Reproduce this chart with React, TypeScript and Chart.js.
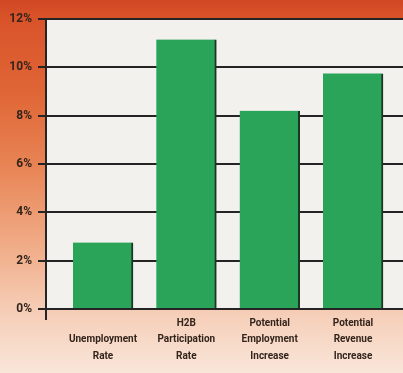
import React, { useEffect, useRef } from "react";
import { Chart, registerables } from "chart.js";

Chart.register(...registerables);

const categories: string[][] = [
  ["", "Unemployment", "Rate"],
  ["H2B", "Participation", "Rate"],
  ["Potential", "Employment", "Increase"],
  ["Potential", "Revenue", "Increase"],
];
const values: number[] = [2.75, 11.15, 8.2, 9.75];
const positions: number[] = [1, 2, 3, 4];
const yTicks: number[] = [0, 2, 4, 6, 8, 10, 12];

const X_MIN = 0.316;
const X_MAX = 4.6;
const FONT_FAMILY = 'Roboto, "Liberation Sans", sans-serif';
const TEXT = "#33241c";
const DARK = "#242424";

const bgPlugin = {
  id: "bgPlugin",
  beforeDraw(chart: any) {
    const { ctx, width, height, chartArea } = chart;
    ctx.save();
    const g = ctx.createLinearGradient(0, 0, 0, height);
    g.addColorStop(0, "#d04824");
    g.addColorStop(0.05, "#d9532a");
    g.addColorStop(0.25, "#e06636");
    g.addColorStop(0.45, "#e88556");
    g.addColorStop(0.65, "#f0aa85");
    g.addColorStop(0.82, "#f5cbb3");
    g.addColorStop(1, "#f9e6da");
    ctx.fillStyle = g;
    ctx.fillRect(0, 0, width, height);
    ctx.fillStyle = "#f3f1ee";
    ctx.fillRect(chartArea.left, chartArea.top, chartArea.right - chartArea.left, chartArea.bottom - chartArea.top);
    ctx.restore();
  },
};

export default function App() {
  const ref = useRef<HTMLCanvasElement | null>(null);
  useEffect(() => {
    document.body.style.margin = "0";
    const canvas = ref.current;
    if (!canvas) return;
    const chart = new Chart(canvas, {
      type: "bar",
      data: {
        datasets: [
          {
            data: values.map((v, i) => ({ x: positions[i], y: v })),
            backgroundColor: "#29a458",
            borderColor: "#1d3524",
            borderWidth: { top: 0, left: 0, right: 2, bottom: 0 },
            borderSkipped: false,
            barThickness: 60,
          } as any,
        ],
      },
      options: {
        responsive: false,
        animation: false,
        layout: { padding: { top: 19, left: 0, right: 0, bottom: 0 } },
        plugins: { legend: { display: false }, tooltip: { enabled: false } },
        scales: {
          x: {
            type: "linear",
            offset: false,
            min: X_MIN,
            max: X_MAX,
            afterBuildTicks: (scale: any) => {
              scale.ticks = [X_MIN, ...positions].map((v) => ({ value: v }));
            },
            afterFit: (scale: any) => {
              scale.height = 64;
            },
            grid: {
              display: true,
              offset: false,
              drawOnChartArea: false,
              drawTicks: true,
              tickLength: 11,
              lineWidth: 2,
              color: (c: any) => (c.index === 0 ? DARK : "rgba(0,0,0,0)"),
            },
            border: { display: false },
            ticks: {
              autoSkip: false,
              maxRotation: 0,
              minRotation: 0,
              padding: -5,
              color: TEXT,
              font: { family: FONT_FAMILY, size: 10, weight: "bold", lineHeight: 1.65 },
              callback: (_v: any, i: number) => (i === 0 ? "" : categories[i - 1]),
            },
          },
          y: {
            min: 0,
            max: 12,
            afterBuildTicks: (scale: any) => {
              scale.ticks = yTicks.map((v) => ({ value: v }));
            },
            afterFit: (scale: any) => {
              scale.width = 46;
            },
            grid: {
              color: DARK,
              lineWidth: 2,
              tickLength: 8,
            },
            border: { display: true, color: DARK, width: 2 },
            ticks: {
              padding: 6,
              color: TEXT,
              font: { family: FONT_FAMILY, size: 12, weight: "bold" },
              callback: (v: any) => `${v}%`,
            },
          },
        },
      } as any,
      plugins: [bgPlugin],
    });
    return () => chart.destroy();
  }, []);
  return (
    <canvas
      ref={ref}
      width={403}
      height={373}
      style={{ position: "fixed", left: 0, top: 0, width: 403, height: 373, display: "block" }}
    />
  );
}
